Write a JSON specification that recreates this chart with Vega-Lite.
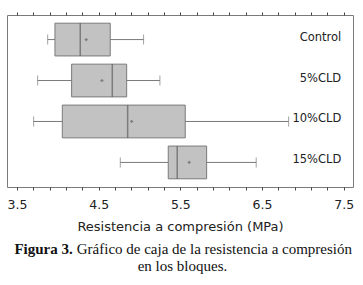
{
  "$schema": "https://vega.github.io/schema/vega-lite/v6.json",
  "padding": {"left": 6, "top": 11, "right": 0, "bottom": 0},
  "config": {
    "view": {"stroke": "#7a7a7a", "strokeWidth": 1},
    "font": "DejaVu Sans"
  },
  "spacing": 6,
  "vconcat": [
    {
      "width": 346,
      "height": 172,
      "data": {
        "values": [
          {"grp": "Control", "min": 3.876, "q1": 3.965, "median": 4.275, "q3": 4.642, "max": 5.05, "mean": 4.348},
          {"grp": "5%CLD", "min": 3.753, "q1": 4.169, "median": 4.667, "q3": 4.843, "max": 5.25, "mean": 4.54},
          {"grp": "10%CLD", "min": 3.704, "q1": 4.055, "median": 4.855, "q3": 5.56, "max": 6.826, "mean": 4.904},
          {"grp": "15%CLD", "min": 4.765, "q1": 5.352, "median": 5.462, "q3": 5.822, "max": 6.429, "mean": 5.609}
        ]
      },
      "encoding": {
        "y": {"field": "grp", "type": "nominal", "sort": null, "axis": null,
              "scale": {"paddingInner": 0.2, "paddingOuter": 0.2}}
      },
      "resolve": {"axis": {"x": "independent"}},
      "layer": [
        {
          "mark": {"type": "rule", "color": "#7a7a7a", "strokeWidth": 1},
          "encoding": {
            "x": {"field": "min", "type": "quantitative",
                  "scale": {"domain": [3.378, 7.614], "nice": false, "zero": false},
                  "axis": {"orient": "bottom", "values": [3.5,3.7,3.9,4.1,4.3,4.5,4.7,4.9,5.1,5.3,5.5,5.7,5.9,6.1,6.3,6.5,6.7,6.9,7.1,7.3,7.5],
                           "labelExpr": "(abs(((datum.value - 3.5) % 1)) < 0.01 || abs(((datum.value - 3.5) % 1)) > 0.99) ? format(datum.value, '.1f') : ''",
                           "domain": false, "grid": false, "tickSize": 3, "tickColor": "#444", "labelColor": "#222",
                           "labelFontSize": 12.5, "labelPadding": 8, "labelFlush": false, "labelOverlap": false,
                           "title": "Resistencia a compresión (MPa)", "titleFontWeight": "normal", "titleFontSize": 13,
                           "titleColor": "#222", "titlePadding": 10}},
            "x2": {"field": "max"}
          }
        },
        {
          "mark": {"type": "tick", "color": "#7a7a7a", "thickness": 1, "size": 10},
          "encoding": {
            "x": {"field": "min", "type": "quantitative",
                  "axis": {"orient": "top", "values": [3.5,3.7,3.9,4.1,4.3,4.5,4.7,4.9,5.1,5.3,5.5,5.7,5.9,6.1,6.3,6.5,6.7,6.9,7.1,7.3,7.5],
                           "labels": false, "domain": false, "grid": false, "tickSize": 3, "tickColor": "#444", "title": null}}
          }
        },
        {
          "mark": {"type": "tick", "color": "#7a7a7a", "thickness": 1, "size": 10},
          "encoding": {
            "x": {"field": "max", "type": "quantitative", "axis": null}
          }
        },
        {
          "mark": {"type": "bar", "fill": "#c2c2c2", "stroke": "#7a7a7a", "strokeWidth": 1},
          "encoding": {
            "x": {"field": "q1", "type": "quantitative", "axis": null},
            "x2": {"field": "q3"}
          }
        },
        {
          "mark": {"type": "tick", "color": "#5e5e5e", "thickness": 1.5, "size": 33},
          "encoding": {
            "x": {"field": "median", "type": "quantitative", "axis": null}
          }
        },
        {
          "mark": {"type": "point", "shape": "cross", "filled": true, "size": 10, "color": "#808080", "opacity": 1},
          "encoding": {
            "x": {"field": "mean", "type": "quantitative", "axis": null}
          }
        },
        {
          "mark": {"type": "text", "align": "right", "baseline": "middle", "fontSize": 11.5, "color": "#222", "dy": -2},
          "encoding": {
            "x": {"datum": 7.47, "type": "quantitative", "axis": null},
            "text": {"field": "grp"}
          }
        }
      ]
    },
    {
      "width": 346,
      "height": 34,
      "view": {"stroke": null},
      "data": {
        "values": [
          {"line": "1", "part": "bold", "label": "Figura 3."},
          {"line": "1", "part": "rest", "label": "Gráfico de caja de la resistencia a compresión"},
          {"line": "2", "part": "center", "label": "en los bloques."}
        ]
      },
      "encoding": {
        "y": {"field": "line", "type": "ordinal", "axis": null, "scale": {"type": "point", "padding": 0.5}}
      },
      "layer": [
        {
          "transform": [{"filter": "datum.part == 'bold'"}],
          "mark": {"type": "text", "align": "right", "baseline": "middle", "font": "Liberation Serif", "fontSize": 15, "fontWeight": "bold", "color": "#111"},
          "encoding": {
            "x": {"datum": 0.19, "type": "quantitative", "scale": {"domain": [0, 1]}, "axis": null},
            "text": {"field": "label"}
          }
        },
        {
          "transform": [{"filter": "datum.part == 'rest'"}],
          "mark": {"type": "text", "align": "left", "baseline": "middle", "font": "Liberation Serif", "fontSize": 15, "color": "#111", "dx": 4},
          "encoding": {
            "x": {"datum": 0.19, "type": "quantitative", "axis": null},
            "text": {"field": "label"}
          }
        },
        {
          "transform": [{"filter": "datum.part == 'center'"}],
          "mark": {"type": "text", "align": "center", "baseline": "middle", "font": "Liberation Serif", "fontSize": 15, "color": "#111"},
          "encoding": {
            "x": {"datum": 0.507, "type": "quantitative", "axis": null},
            "text": {"field": "label"}
          }
        }
      ]
    }
  ]
}
